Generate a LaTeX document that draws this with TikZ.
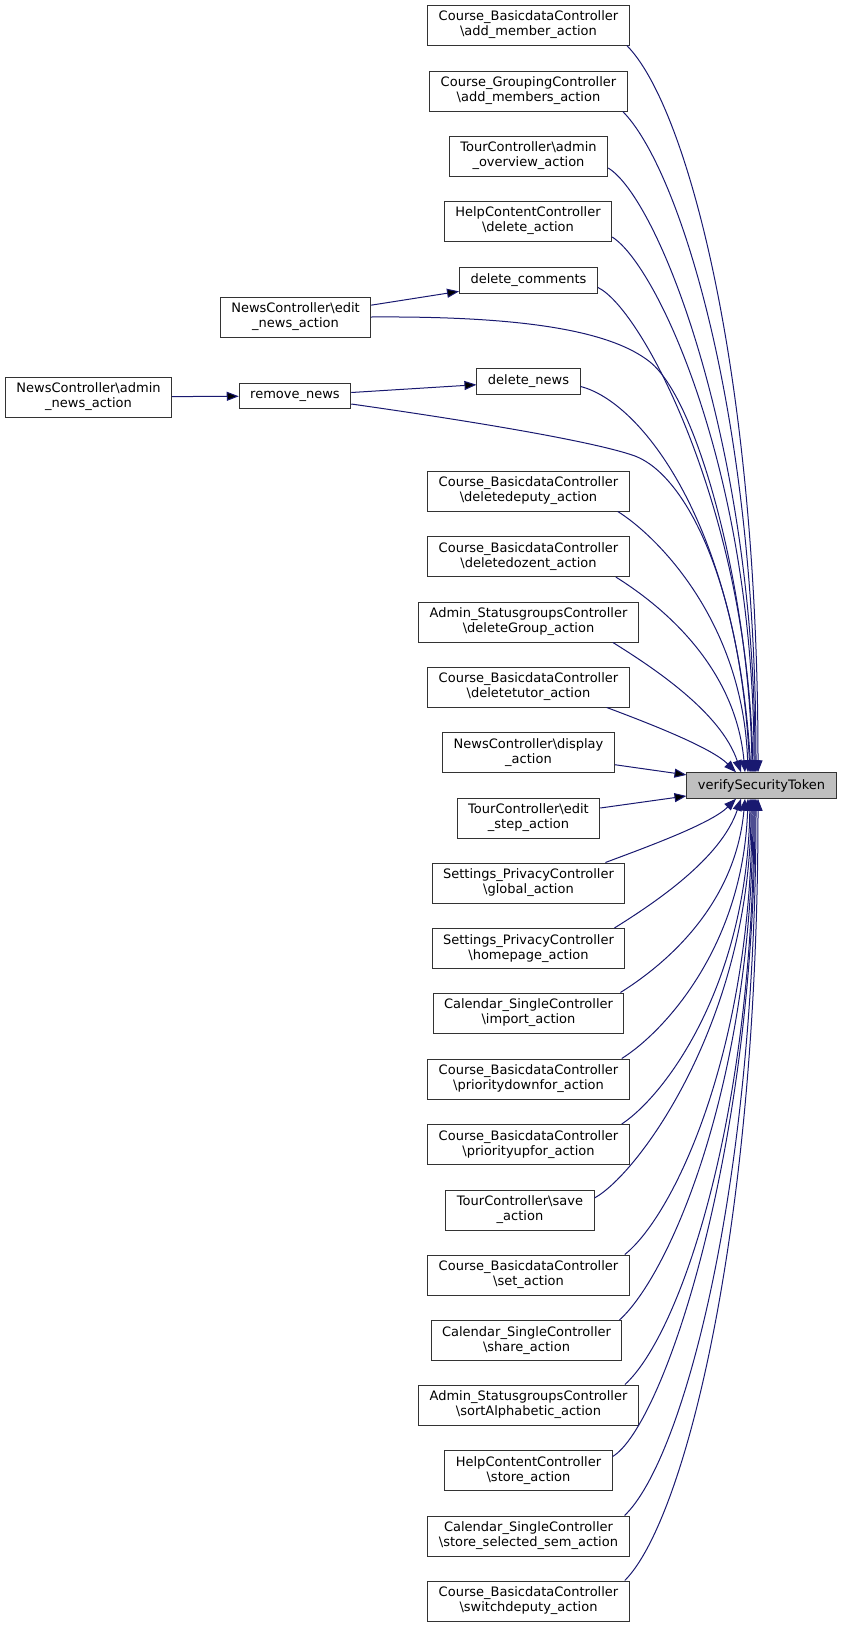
\documentclass[tikz,border=0pt]{standalone}
\usepackage{fontspec}
\setmainfont{DejaVu Sans}
\usepackage{xcolor}
\usetikzlibrary{arrows.meta}
\definecolor{edgeblue}{HTML}{191970}
\definecolor{hlgray}{HTML}{BFBFBF}

\begin{document}
\begin{tikzpicture}[x=1pt,y=-1pt,
	fn/.style={draw=black!80,line width=1pt,fill=white,align=center,inner xsep=11pt,inner ysep=2pt,minimum height=40pt,font=\fontsize{13}{15}\selectfont},
	fnone/.style={fn,minimum height=25.5pt},
	cur/.style={fnone,fill=hlgray},
	call/.style={draw=edgeblue,line width=1pt,-{Stealth[inset=0pt,length=12pt,width=9pt]}}]
	\useasboundingbox (0,0) rectangle (841,1628);
	% callers, top part
	\node[fn] (addmember) at (528.5,25) {Course\_BasicdataController\\\textbackslash add\_member\_action};
	\node[fn] (addmembers) at (528.5,91) {Course\_GroupingController\\\textbackslash add\_members\_action};
	\node[fn] (adminov) at (528.5,156) {TourController\textbackslash admin\\\_overview\_action};
	\node[fn] (helpdel) at (528,221) {HelpContentController\\\textbackslash delete\_action};
	\node[fnone] (delcomm) at (528.5,280.5) {delete\_comments};
	\node[fn] (editnews) at (295.5,317) {NewsController\textbackslash edit\\\_news\_action};
	\node[fnone] (delnews) at (528.5,381.5) {delete\_news};
	\node[fnone] (removenews) at (295,396) {remove\_news};
	\node[fn] (adminnews) at (88.5,397) {NewsController\textbackslash admin\\\_news\_action};
	\node[fn] (deldeputy) at (528.5,491) {Course\_BasicdataController\\\textbackslash deletedeputy\_action};
	\node[fn] (deldozent) at (528.5,556.5) {Course\_BasicdataController\\\textbackslash deletedozent\_action};
	\node[fn] (delgroup) at (528.5,622) {Admin\_StatusgroupsController\\\textbackslash deleteGroup\_action};
	\node[fn] (deltutor) at (528.5,687) {Course\_BasicdataController\\\textbackslash deletetutor\_action};
	\node[fn] (display) at (528.5,752.5) {NewsController\textbackslash display\\\_action};
	\node[fn] (editstep) at (528.5,818) {TourController\textbackslash edit\\\_step\_action};
	% the called function
	\node[cur] (vst) at (761.5,785.5) {verifySecurityToken};
	% callers, bottom part
	\node[fn] (global) at (528.5,883) {Settings\_PrivacyController\\\textbackslash global\_action};
	\node[fn] (homepage) at (528.5,948.5) {Settings\_PrivacyController\\\textbackslash homepage\_action};
	\node[fn] (import) at (528.5,1013) {Calendar\_SingleController\\\textbackslash import\_action};
	\node[fn] (prdown) at (528.5,1079) {Course\_BasicdataController\\\textbackslash prioritydownfor\_action};
	\node[fn] (prup) at (528.5,1144.5) {Course\_BasicdataController\\\textbackslash priorityupfor\_action};
	\node[fn] (save) at (520,1210) {TourController\textbackslash save\\\_action};
	\node[fn] (set) at (528.5,1275) {Course\_BasicdataController\\\textbackslash set\_action};
	\node[fn] (share) at (526.5,1340.5) {Calendar\_SingleController\\\textbackslash share\_action};
	\node[fn] (sortalpha) at (528.5,1405) {Admin\_StatusgroupsController\\\textbackslash sortAlphabetic\_action};
	\node[fn] (helpstore) at (528.5,1470.5) {HelpContentController\\\textbackslash store\_action};
	\node[fn] (storesem) at (528.5,1536) {Calendar\_SingleController\\\textbackslash store\_selected\_sem\_action};
	\node[fn] (switchdep) at (528.5,1601) {Course\_BasicdataController\\\textbackslash switchdeputy\_action};
	% straight calls
	\path[call]
	(adminnews) edge (removenews)
	(removenews) edge (delnews)
	(editnews) edge (delcomm)
	(display) edge (vst)
	(editstep) edge (vst)
	;
	% curved calls from above
	\draw[call] ([xshift=-3pt]addmember.south east) .. controls +(60,60) and +(0,-400) .. ([xshift=-3.5pt]vst.north);
	\draw[call] ([xshift=-5pt]addmembers.south east) .. controls +(55,55) and +(0,-365) .. ([xshift=-5.5pt]vst.north);
	\draw[call] ([yshift=-12pt]adminov.east) .. controls +(50,30) and +(0,-330) .. ([xshift=-6.5pt]vst.north);
	\draw[call] ([yshift=-16pt]helpdel.east) .. controls +(45,28) and +(0,-300) .. ([xshift=-7.5pt]vst.north);
	\draw[call] ([yshift=-7pt]delcomm.east) .. controls +(45,22) and +(-5,-260) .. ([xshift=-8.5pt]vst.north);
	\draw[call] (editnews.east) .. controls (520,316) and (610,330) .. (650,362) .. controls (700,402) and (750,600) .. ([xshift=-9.5pt]vst.north);
	\draw[call] ([yshift=-5pt]delnews.east) .. controls +(60,15) and +(-15,-250) .. ([xshift=-10.5pt]vst.north);
	\draw[call] ([yshift=-8pt]removenews.east) .. controls (450,418) and (590,440) .. (635,456) .. controls (685,475) and (740,580) .. ([xshift=-11.5pt]vst.north);
	\draw[call] ([xshift=-12pt]deldeputy.south east) .. controls +(40,25) and +(-5,-150) .. ([xshift=-13.5pt]vst.north);
	\draw[call] ([xshift=-14pt]deldozent.south east) .. controls +(40,25) and +(-10,-110) .. ([xshift=-16.5pt]vst.north);
	\draw[call] ([xshift=-26pt]delgroup.south east) .. controls +(40,25) and +(-20,-60) .. ([xshift=-20.5pt]vst.north);
	\draw[call] ([xshift=-23pt]deltutor.south east) .. controls +(40,15) and +(-25,-25) .. ([xshift=-25.5pt]vst.north);
	% curved calls from below
	\draw[call] ([xshift=-20pt]global.north east) .. controls +(40,-15) and +(-25,25) .. ([xshift=-25.5pt]vst.south);
	\draw[call] ([xshift=-11pt]homepage.north east) .. controls +(40,-25) and +(-20,60) .. ([xshift=-20.5pt]vst.south);
	\draw[call] ([xshift=-4pt]import.north east) .. controls +(40,-25) and +(-10,110) .. ([xshift=-16.5pt]vst.south);
	\draw[call] ([xshift=-8pt]prdown.north east) .. controls +(40,-25) and +(-5,150) .. ([xshift=-13.5pt]vst.south);
	\draw[call] ([xshift=-8pt]prup.north east) .. controls +(45,-30) and +(-3,185) .. ([xshift=-11.5pt]vst.south);
	\draw[call] ([yshift=12pt]save.east) .. controls +(45,-25) and +(0,220) .. ([xshift=-10.5pt]vst.south);
	\draw[call] ([xshift=-5pt]set.north east) .. controls +(50,-40) and +(0,250) .. ([xshift=-9.5pt]vst.south);
	\draw[call] ([xshift=-3pt]share.north east) .. controls +(50,-45) and +(0,285) .. ([xshift=-8.5pt]vst.south);
	\draw[call] ([xshift=-14pt]sortalpha.north east) .. controls +(55,-50) and +(0,320) .. ([xshift=-7.5pt]vst.south);
	\draw[call] ([yshift=14pt]helpstore.east) .. controls +(50,-30) and +(0,355) .. ([xshift=-6.5pt]vst.south);
	\draw[call] ([xshift=-5pt]storesem.north east) .. controls +(58,-55) and +(0,390) .. ([xshift=-5.5pt]vst.south);
	\draw[call] ([xshift=-5pt]switchdep.north east) .. controls +(60,-60) and +(0,430) .. ([xshift=-3.5pt]vst.south);
\end{tikzpicture}
\end{document}
